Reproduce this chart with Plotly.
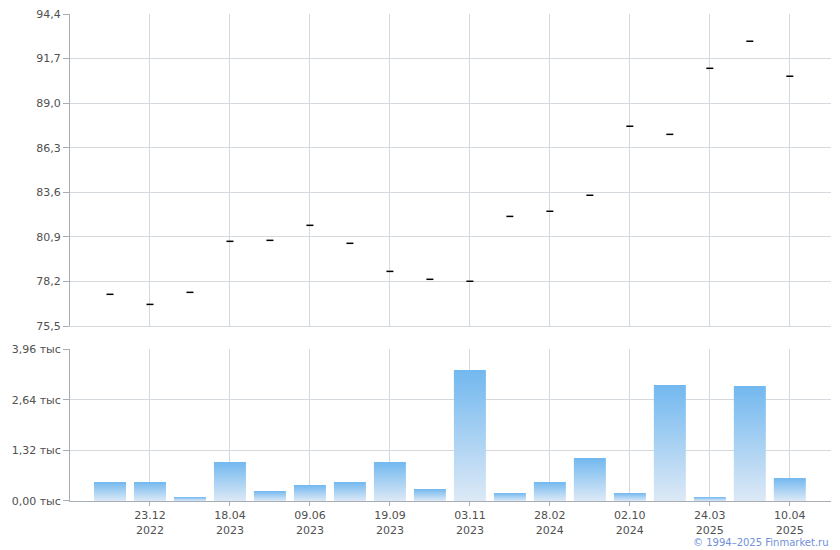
import plotly.graph_objects as go

positions = list(range(18))
prices = [77.42, 76.81, 77.54, 80.63, 80.69, 81.60, 80.51, 78.81, 78.33, 78.21,
          82.14, 82.45, 83.42, 87.60, 87.11, 91.11, 92.75, 90.63]
volumes = [0.495, 0.495, 0.104, 1.016, 0.26, 0.417, 0.495, 1.016, 0.313, 3.41,
           0.208, 0.495, 1.12, 0.208, 3.02, 0.104, 2.996, 0.599]
tick_pos = [1, 3, 5, 7, 9, 11, 13, 15, 17]
tick_labels = ["23.12<br>2022", "18.04<br>2023", "09.06<br>2023", "19.09<br>2023",
               "03.11<br>2023", "28.02<br>2024", "02.10<br>2024", "24.03<br>2025",
               "10.04<br>2025"]
price_ticks = [75.5, 78.2, 80.9, 83.6, 86.3, 89.0, 91.7, 94.4]
vol_ticks = [0.0, 1.32, 2.64, 3.96]

GRID = "#d4d9de"
AXIS = "#a8acb4"
TXT = "#505050"
FONT = "DejaVu Sans"
BAR_W = 0.8

fig = go.Figure()

fig.add_trace(go.Scatter(
    x=positions, y=prices, mode="markers",
    marker=dict(symbol="line-ew", size=5, line=dict(width=1.5, color="black")),
    xaxis="x", yaxis="y", showlegend=False, hoverinfo="x+y"))

for p, v in zip(positions, volumes):
    xs = [p - BAR_W / 2, p + BAR_W / 2, p + BAR_W / 2, p - BAR_W / 2, p - BAR_W / 2]
    ys = [0, 0, v, v, 0]
    fig.add_trace(go.Scatter(
        x=xs, y=ys, mode="lines", fill="toself", line=dict(width=0),
        fillgradient=dict(type="vertical",
                          colorscale=[[0, "#dde9f6"], [1, "#72b8ef"]]),
        xaxis="x2", yaxis="y2", showlegend=False, hoverinfo="skip"))

# page body has an 8px margin, so the figure is 8px smaller and margins shifted
xr = [-1, 18.03]
fig.update_layout(
    width=832, height=542,
    margin=dict(l=62, r=9, t=6, b=49, autoexpand=False),
    paper_bgcolor="white", plot_bgcolor="white",
    font=dict(family=FONT, size=11, color=TXT),
    xaxis=dict(domain=[0, 1], range=xr, tickvals=tick_pos, showticklabels=False,
               showgrid=True, gridcolor=GRID, gridwidth=1, zeroline=False,
               showline=True, linecolor=GRID, linewidth=1, ticks="", anchor="y",
               automargin=False),
    yaxis=dict(domain=[0.3593, 1], range=[75.5, 94.4], tickvals=price_ticks,
               ticktext=[f"{t:.1f}".replace(".", ",") for t in price_ticks],
               showgrid=True, gridcolor=GRID, gridwidth=1, zeroline=False,
               showline=True, linecolor=AXIS, linewidth=1,
               ticks="outside", ticklen=6, tickcolor=AXIS, anchor="x",
               automargin=False, ticklabeloverflow="allow"),
    xaxis2=dict(domain=[0, 1], range=xr, tickvals=tick_pos, ticktext=tick_labels,
                showgrid=True, gridcolor=GRID, gridwidth=1, zeroline=False,
                showline=True, linecolor=AXIS, linewidth=1,
                ticks="outside", ticklen=4, tickcolor=AXIS, anchor="y2",
                automargin=False),
    yaxis2=dict(domain=[0, 0.3121], range=[0, 3.96], tickvals=vol_ticks,
                ticktext=[f"{t:.2f}".replace(".", ",") + " тыс" for t in vol_ticks],
                showgrid=True, gridcolor=GRID, gridwidth=1, zeroline=False,
                showline=True, linecolor=AXIS, linewidth=1,
                ticks="outside", ticklen=6, tickcolor=AXIS, anchor="x2",
                automargin=False),
    annotations=[dict(text="© 1994–2025 Finmarket.ru", xref="paper", yref="paper",
                      x=1, y=0, yshift=-41, xanchor="right", yanchor="middle",
                      showarrow=False, font=dict(family=FONT, size=10, color="#7090d8"))],
)

fig.write_html("out.html")
